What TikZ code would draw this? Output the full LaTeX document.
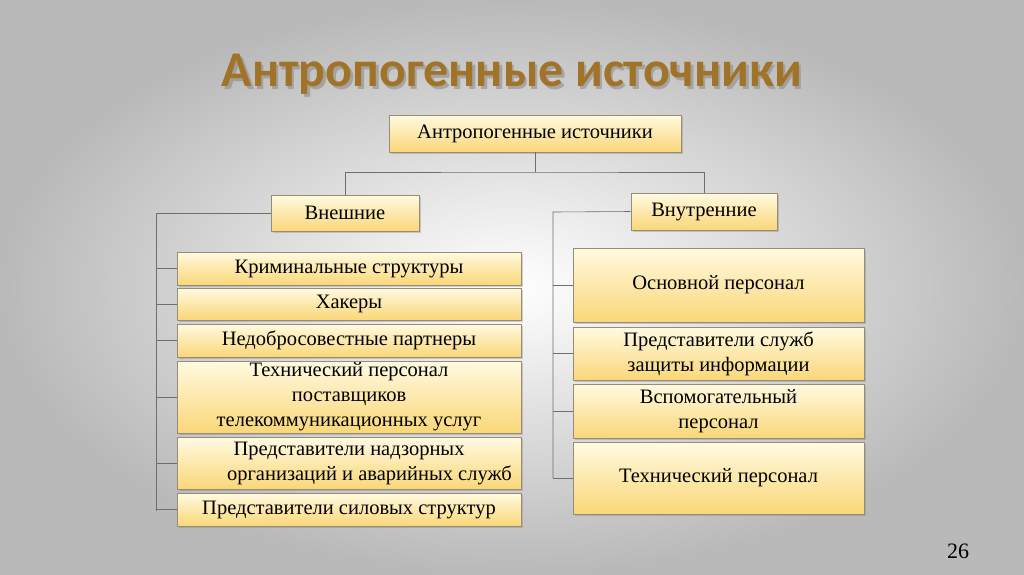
\documentclass[tikz,border=0pt]{standalone}
\usepackage{fontspec}
\setmainfont{Liberation Serif}
\newfontfamily\titlefont{Carlito}
\usetikzlibrary{shadows}
\definecolor{boxtop}{RGB}{255,250,225}
\definecolor{boxbot}{RGB}{250,215,120}
\definecolor{boxline}{RGB}{150,140,120}
\definecolor{titlecol}{RGB}{160,115,40}
\definecolor{linecol}{RGB}{110,110,110}
\tikzset{
  bx/.style={draw=boxline, line width=0.6pt, top color=boxtop, bottom color=boxbot,
    drop shadow={shadow xshift=2pt,shadow yshift=-2pt,opacity=0.35}, inner sep=0pt,
    font=\fontsize{20.5}{25}\selectfont, align=center},
  ln/.style={draw=linecol, line width=0.6pt}
}
\newcommand{\bxat}[6]{\node[bx, minimum width=#3-#2, minimum height=#5-#4] (#1) at ({(#2+#3)/2},{-(#4+#5)/2}) {#6};}
\begin{document}
\begin{tikzpicture}[x=1pt,y=1pt]
\useasboundingbox (0,0) rectangle (1024,-574);
\shade[inner color=white, outer color=gray!55] (0,0) rectangle (1024,-574);
\node[text=black!45, opacity=0.6, font=\titlefont\bfseries\fontsize{50}{54}\selectfont] at (514.5,-77.5) {Антропогенные источники};
\node[text=titlecol, font=\titlefont\bfseries\fontsize{50}{54}\selectfont] (title) at (512,-74) {Антропогенные источники};
\bxat{root}{389}{681}{115}{152}{Антропогенные источники}
\bxat{ext}{271}{419}{195}{231}{Внешние}
\bxat{int}{631}{777}{193}{230}{Внутренние}
\bxat{l1}{177}{521}{252}{285}{Криминальные структуры}
\bxat{l2}{177}{521}{288}{320}{Хакеры}
\bxat{l3}{177}{521}{324}{357}{Недобросовестные партнеры}
\bxat{l4}{177}{521}{361}{433}{Технический персонал\\поставщиков\\телекоммуникационных услуг}
\bxat{l5}{177}{521}{437}{489}{Представители надзорных\\\hspace*{2em}организаций и аварийных служб}
\bxat{l6}{177}{521}{493}{526}{Представители силовых структур}
\bxat{r1}{573}{864}{248}{322}{Основной персонал}
\bxat{r2}{573}{864}{327}{380}{Представители служб\\защиты информации}
\bxat{r3}{573}{864}{384}{438}{Вспомогательный\\персонал}
\bxat{r4}{573}{864}{442}{514}{Технический персонал}
\coordinate (jn) at (535,-172);
\draw[ln] (root.south) -- (jn);
\draw[ln] (ext.north) |- (jn) -| (int.north);
\coordinate (lb) at (156,-213);
\coordinate (rb) at (553,-212);
\draw[ln] (ext.west) -- (lb) -- (156,-511);
\draw[ln] (int.west) -- (rb) -- (553,-478);
\foreach \n in {l1,l2,l3,l4,l5,l6} \draw[ln] (\n.west) -- (\n.west -| lb);
\foreach \n in {r1,r2,r3,r4} \draw[ln] (\n.west) -- (\n.west -| rb);
\node[font=\fontsize{22}{24}\selectfont] (pg) at (958,-551) {26};
\end{tikzpicture}
\end{document}
